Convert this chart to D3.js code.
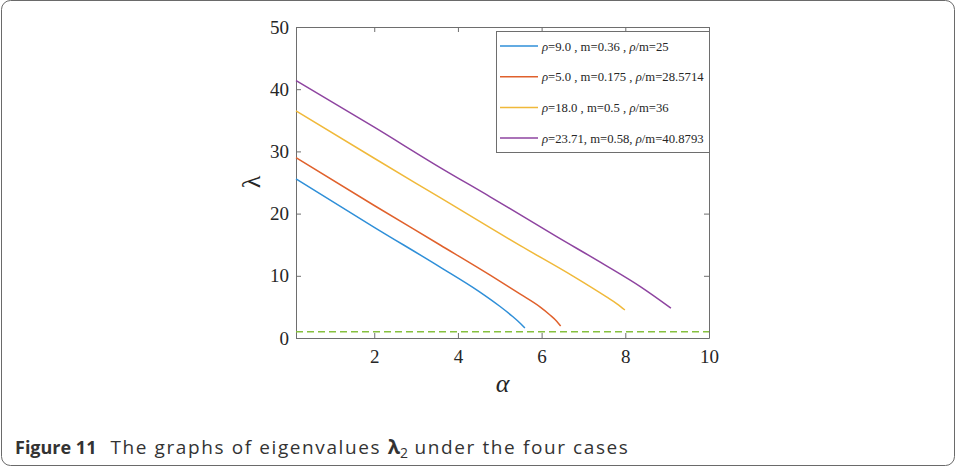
<!DOCTYPE html>
<html>
<head>
<meta charset="utf-8">
<script src="https://cdn.jsdelivr.net/npm/d3@7"></script>
<style>
  html, body { margin: 0; padding: 0; background: #fff; }
  svg { display: block; }
  .axis path, .axis line { stroke: #6e6e6e; }
  .axis text { font-family: "Liberation Serif", "Times New Roman", serif; font-size: 19px; fill: #262626; }
</style>
</head>
<body>
<div id="chart"></div>
<script>
//! DATA
const xTicks = [2, 4, 6, 8, 10];
const yTicks = [0, 10, 20, 30, 40, 50];

const blueAlpha = [0.13, 2, 3.575, 4.5, 5.0, 5.3, 5.5, 5.6];
const blueLambda = [25.6, 17.8, 11.4, 7.5, 5.1, 3.5, 2.3, 1.6];

const redAlpha = [0.13, 2, 3.575, 4.77, 5.5, 5.96, 6.2, 6.36, 6.455];
const redLambda = [29.0, 21.3, 14.95, 10.1, 7.0, 5.0, 3.7, 2.7, 1.93];

const yellowAlpha = [0.13, 2, 3.575, 5.5, 6.76, 7.55, 7.8, 7.99];
const yellowLambda = [36.5, 28.9, 22.56, 14.8, 9.9, 6.6, 5.5, 4.5];

const purpleAlpha = [0.13, 2, 3.575, 4.77, 6.36, 7.5, 8.35, 9.09];
const purpleLambda = [41.4, 33.9, 27.4, 22.7, 16.3, 11.8, 8.3, 4.8];

const thresholdLambda = 1;

const legendLabels = [
  [['ρ', true], ['=9.0 , m=0.36 , ', false], ['ρ', true], ['/m=25', false]],
  [['ρ', true], ['=5.0 , m=0.175 , ', false], ['ρ', true], ['/m=28.5714', false]],
  [['ρ', true], ['=18.0 , m=0.5 , ', false], ['ρ', true], ['/m=36', false]],
  [['ρ', true], ['=23.71, m=0.58, ', false], ['ρ', true], ['/m=40.8793', false]]
];

const series = [
  { a: blueAlpha, l: blueLambda, color: '#2f8fd8' },
  { a: redAlpha, l: redLambda, color: '#e0612c' },
  { a: yellowAlpha, l: yellowLambda, color: '#f0b93a' },
  { a: purpleAlpha, l: purpleLambda, color: '#8e44a0' }
];

//! CONSTS
const width = 956;
const height = 467;
const plot = { left: 296, right: 709, top: 27, bottom: 338 };

const svg = d3.select('#chart')
  .append('svg')
  .attr('width', width)
  .attr('height', height);

// figure frame
svg.append('rect')
  .attr('x', 1.5).attr('y', 0.5)
  .attr('width', width - 3).attr('height', height - 2)
  .attr('rx', 9)
  .attr('fill', 'none')
  .attr('stroke', '#6a6a6a')
  .attr('stroke-width', 1);

//! SCALES
const xScale = d3.scaleLinear().domain([0.13, 10]).range([plot.left, plot.right]);
const yScale = d3.scaleLinear().domain([0, 50]).range([plot.bottom, plot.top]);

//! AXES
svg.append('g')
  .attr('class', 'axis')
  .attr('transform', `translate(0,${plot.bottom})`)
  .call(d3.axisBottom(xScale).tickValues(xTicks).tickSizeInner(-5).tickSizeOuter(0).tickPadding(12));

svg.append('g')
  .attr('class', 'axis')
  .attr('transform', `translate(${plot.left},0)`)
  .call(d3.axisLeft(yScale).tickValues(yTicks).tickSizeInner(-5).tickSizeOuter(0).tickPadding(7));

svg.append('g')
  .attr('class', 'axis')
  .attr('transform', `translate(0,${plot.top})`)
  .call(d3.axisBottom(xScale).tickValues(xTicks).tickSizeInner(5).tickSizeOuter(0).tickFormat(''));

svg.append('g')
  .attr('class', 'axis')
  .attr('transform', `translate(${plot.right},0)`)
  .call(d3.axisLeft(yScale).tickValues(yTicks).tickSizeInner(5).tickSizeOuter(0).tickFormat(''));

// axis labels
svg.append('text')
  .attr('transform', `translate(260,182) rotate(-90)`)
  .attr('text-anchor', 'middle')
  .attr('font-family', '"Liberation Serif", serif')
  .attr('font-size', 26)
  .attr('fill', '#262626')
  .text('λ');

svg.append('text')
  .attr('x', (plot.left + plot.right) / 2)
  .attr('y', 392)
  .attr('text-anchor', 'middle')
  .attr('font-family', '"Liberation Serif", serif')
  .attr('font-style', 'italic')
  .attr('font-size', 26)
  .attr('fill', '#262626')
  .text('α');

//! LINES
svg.append('line')
  .attr('x1', xScale(0.13)).attr('x2', xScale(10))
  .attr('y1', yScale(thresholdLambda)).attr('y2', yScale(thresholdLambda))
  .attr('stroke', '#86c03e')
  .attr('stroke-width', 1.5)
  .attr('stroke-dasharray', '7,4');

const line = d3.line()
  .x(d => xScale(d[0]))
  .y(d => yScale(d[1]))
  .curve(d3.curveMonotoneX);

series.forEach(s => {
  svg.append('path')
    .datum(s.a.map((a, i) => [a, s.l[i]]))
    .attr('d', line)
    .attr('fill', 'none')
    .attr('stroke', s.color)
    .attr('stroke-width', 1.5);
});

//! LEGEND
const legend = svg.append('g');
legend.append('rect')
  .attr('x', 496.5).attr('y', 31.5)
  .attr('width', 213).attr('height', 121)
  .attr('fill', '#fff')
  .attr('stroke', '#6e6e6e');

legendLabels.forEach((parts, i) => {
  const y = 46 + i * 30.7;
  legend.append('line')
    .attr('x1', 500).attr('x2', 538)
    .attr('y1', y).attr('y2', y)
    .attr('stroke', series[i].color)
    .attr('stroke-width', 1.5);
  const t = legend.append('text')
    .attr('x', 542).attr('y', y + 4.5)
    .attr('font-family', '"Liberation Serif", serif')
    .attr('font-size', 12.7)
    .attr('fill', '#262626');
  parts.forEach(p => {
    t.append('tspan')
      .attr('font-style', p[1] ? 'italic' : 'normal')
      .text(p[0]);
  });
});

//! CAPTION
const cap = svg.append('text')
  .attr('x', 15).attr('y', 454)
  .attr('font-family', '"Open Sans", "Noto Sans", sans-serif')
  .attr('font-size', 18)
  .attr('fill', '#333');
cap.append('tspan').attr('font-weight', 'bold').text('Figure 11');
const rest = [
  cap.append('tspan').attr('dx', 14).text('The graphs of eigenvalues '),
  cap.append('tspan').attr('font-weight', 'bold').attr('font-size', 20).text('λ'),
  cap.append('tspan').attr('font-size', 14).attr('dy', 4).text('2'),
  cap.append('tspan').attr('dy', -4).text(' under the four cases')
];
rest[0].attr('font-size', 19).attr('letter-spacing', 1.6);
rest[3].attr('font-size', 19).attr('letter-spacing', 1.6);
</script>
</body>
</html>
